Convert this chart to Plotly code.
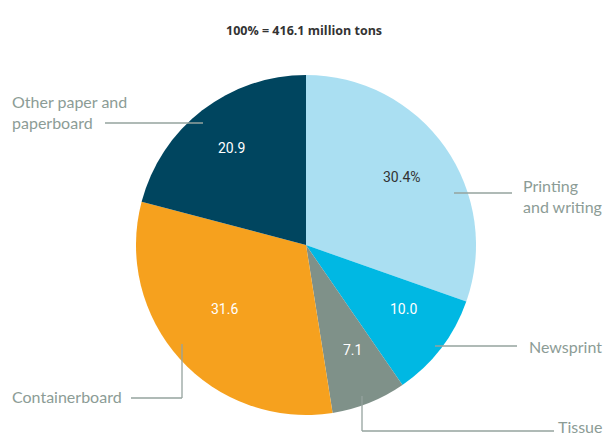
import math
import plotly.graph_objects as go

W, H = 607, 435

# Paper and paperboard production by grade, share of total (%)
categories = ["Printing and writing", "Newsprint", "Tissue", "Containerboard",
              "Other paper and paperboard"]
shares = [30.4, 10.0, 7.1, 31.6, 20.9]
value_labels = ["30.4%", "10.0", "7.1", "31.6", "20.9"]
side_labels = ["Printing<br>and writing", "Newsprint", "Tissue", "Containerboard",
               "Other paper and<br>paperboard"]
title_text = "<b>100% = 416.1 million tons</b>"

colors = ["#aadff2", "#00b8e3", "#7f9189", "#f6a11e", "#00455f"]
value_colors = ["#333333", "#ffffff", "#ffffff", "#ffffff", "#ffffff"]
value_radius = [0.69, 0.72, 0.73, 0.65, 0.72]

# Pie geometry in pixels
cx, cy, R = 306, 245, 170


def px(x):
    return x / W


def py(y):
    return 1 - y / H


fig = go.Figure(go.Pie(
    labels=categories,
    values=shares,
    sort=False,
    direction="clockwise",
    rotation=0,
    marker=dict(colors=colors, line=dict(width=0)),
    textinfo="none",
    hoverinfo="label+value",
    domain=dict(x=[px(cx - R), px(cx + R)], y=[py(cy + R), py(cy - R)]),
    showlegend=False,
))

annotations = [dict(x=0.5, y=py(20), xref="paper", yref="paper", text=title_text,
                    showarrow=False, font=dict(family="Open Sans", size=12.5, color="#333333"))]

# Value labels placed along each slice's mid-angle
total = sum(shares)
cum = 0
for v, lab, col, rf in zip(shares, value_labels, value_colors, value_radius):
    mid = (cum + v / 2) / total * 2 * math.pi
    cum += v
    x = cx + rf * R * math.sin(mid)
    y = cy - rf * R * math.cos(mid)
    annotations.append(dict(x=px(x), y=py(y), xref="paper", yref="paper", text=lab,
                            showarrow=False,
                            font=dict(family="Roboto", size=14, color=col)))

label_font = dict(family="Lato, Liberation Sans", size=16, color="#8c9c96")
# Category labels: (x, y, anchor)
label_pos = [(521, 196, "left"), (604, 346, "right"), (604, 426, "right"),
             (10, 396, "left"), (10, 112, "left")]
for txt, (x, y, anc) in zip(side_labels, label_pos):
    annotations.append(dict(x=px(x), y=py(y), xref="paper", yref="paper", text=txt,
                            xanchor=anc, yanchor="middle", align="left", showarrow=False,
                            font=label_font))

# Leader lines (pixel polylines)
leaders = [
    [(454, 193), (512, 193)],
    [(435, 346), (517, 346)],
    [(362, 396), (362, 431), (554, 431)],
    [(182, 344), (182, 398), (131, 398)],
    [(203, 123), (105, 123)],
]
shapes = []
for pts in leaders:
    for (x0, y0), (x1, y1) in zip(pts[:-1], pts[1:]):
        shapes.append(dict(type="line", xref="paper", yref="paper",
                           x0=px(x0), y0=py(y0), x1=px(x1), y1=py(y1),
                           line=dict(color="#95a39e", width=1.3)))

fig.update_layout(
    width=W, height=H,
    margin=dict(l=0, r=0, t=0, b=0),
    paper_bgcolor="white",
    plot_bgcolor="white",
    annotations=annotations,
    shapes=shapes,
)

fig.write_html("out.html")
